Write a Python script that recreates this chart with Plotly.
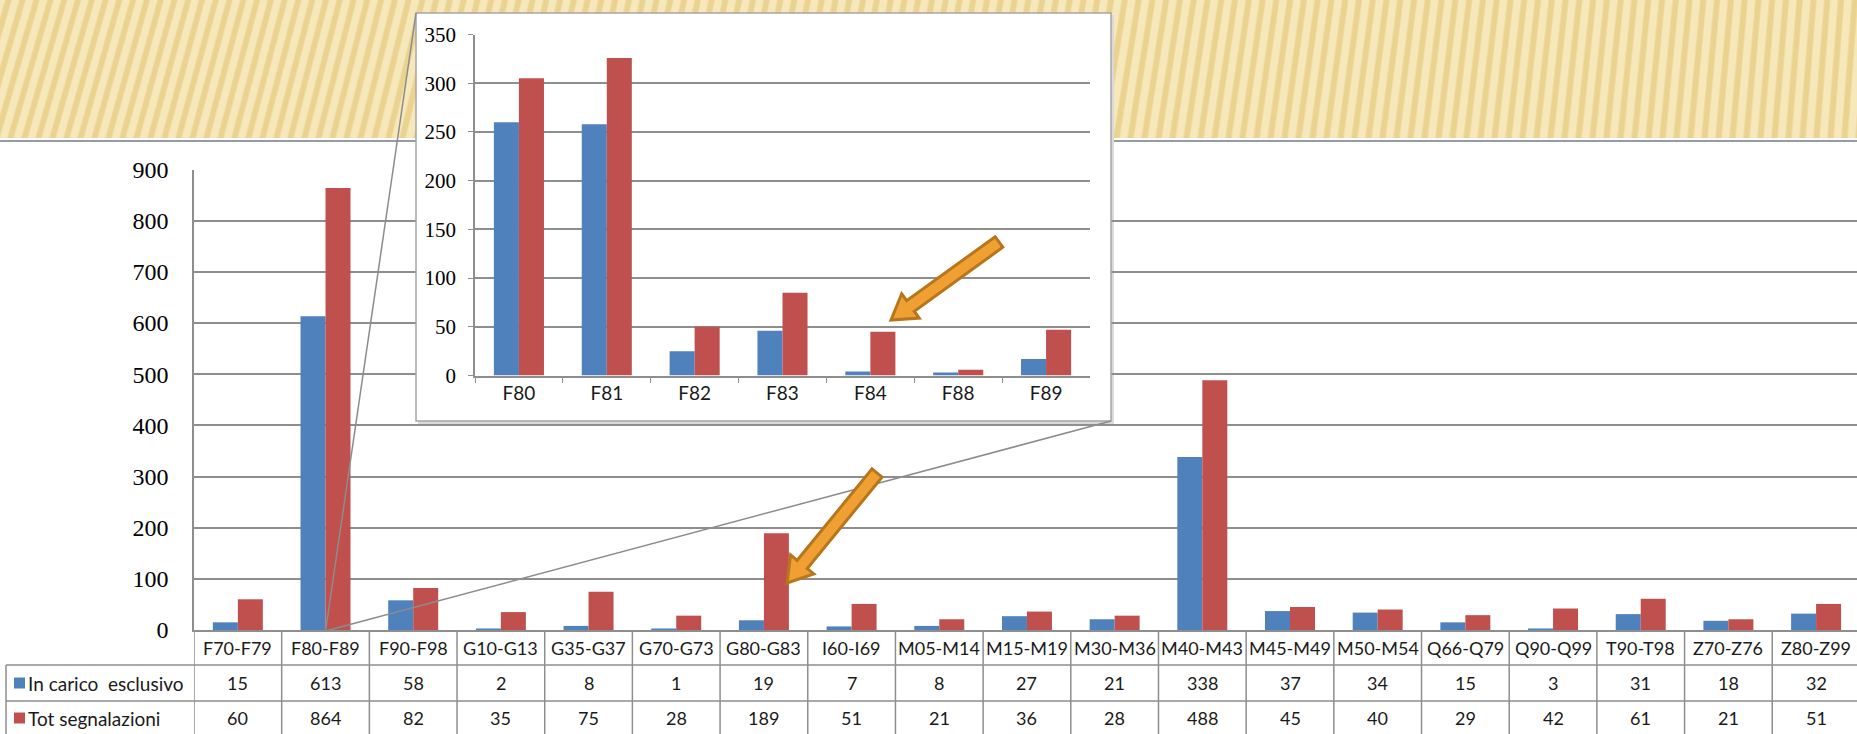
import plotly.graph_objects as go

# page size in pixels, every layout position below is given in pixels and turned into paper units
W, H = 1857, 734

# main chart data
categories = ["F70-F79", "F80-F89", "F90-F98", "G10-G13", "G35-G37", "G70-G73", "G80-G83",
              "I60-I69", "M05-M14", "M15-M19", "M30-M36", "M40-M43", "M45-M49", "M50-M54",
              "Q66-Q79", "Q90-Q99", "T90-T98", "Z70-Z76", "Z80-Z99"]
in_carico = [15, 613, 58, 2, 8, 1, 19, 7, 8, 27, 21, 338, 37, 34, 15, 3, 31, 18, 32]
tot_segnalazioni = [60, 864, 82, 35, 75, 28, 189, 51, 21, 36, 28, 488, 45, 40, 29, 42, 61, 21, 51]
series_names = ["In carico  esclusivo", "Tot segnalazioni"]
main_ticks = [0, 100, 200, 300, 400, 500, 600, 700, 800, 900]

# detail of F80-F89 (inset chart), values estimated from the bars
zoom_categories = ["F80", "F81", "F82", "F83", "F84", "F88", "F89"]
zoom_in_carico = [260, 258, 25, 46, 4, 3, 17]
zoom_tot = [305, 326, 50, 85, 45, 6, 47]
zoom_ticks = [0, 50, 100, 150, 200, 250, 300, 350]

BLUE = "#4F81BD"
RED = "#C0504D"
GRID = "#8E8E8E"
TEXT = "#1A1A1A"
SANS = "Lato"
SERIF = "Liberation Serif"


def px(x):
    return x / W


def py(y):
    return 1 - y / H


def arrow_path(x0, y0, x1, y1, shaft=13, head_w=30, head_l=24):
    # block arrow from tail (x0, y0) to tip (x1, y1), pixel coords -> svg path in paper units
    dx, dy = x1 - x0, y1 - y0
    length = (dx * dx + dy * dy) ** 0.5
    ux, uy = dx / length, dy / length
    nx, ny = -uy, ux
    bx, by = x1 - ux * head_l, y1 - uy * head_l
    pts = [
        (x0 + nx * shaft / 2, y0 + ny * shaft / 2),
        (bx + nx * shaft / 2, by + ny * shaft / 2),
        (bx + nx * head_w / 2, by + ny * head_w / 2),
        (x1, y1),
        (bx - nx * head_w / 2, by - ny * head_w / 2),
        (bx - nx * shaft / 2, by - ny * shaft / 2),
        (x0 - nx * shaft / 2, y0 - ny * shaft / 2),
    ]
    return "M " + " L ".join(f"{px(a):.5f},{py(b):.5f}" for a, b in pts) + " Z"


fig = go.Figure()

# main grouped bars
fig.add_trace(go.Bar(x=categories, y=in_carico, name=series_names[0], marker=dict(color=BLUE, line_width=0)))
fig.add_trace(go.Bar(x=categories, y=tot_segnalazioni, name=series_names[1], marker=dict(color=RED, line_width=0)))

# empty subplot used only as a white card behind the inset (it hides the main gridlines)
fig.add_trace(go.Scatter(x=[], y=[], xaxis="x2", yaxis="y2", showlegend=False, hoverinfo="skip"))

# inset bars
fig.add_trace(go.Bar(x=zoom_categories, y=zoom_in_carico, xaxis="x3", yaxis="y3",
                     marker=dict(color=BLUE, line_width=0), showlegend=False))
fig.add_trace(go.Bar(x=zoom_categories, y=zoom_tot, xaxis="x3", yaxis="y3",
                     marker=dict(color=RED, line_width=0), showlegend=False))

n = len(categories)
col_w = (W - 194) / 87.68  # number of columns visible in the window
fig.update_layout(
    width=W,
    height=H,
    margin=dict(l=0, r=0, t=0, b=0, autoexpand=False),
    paper_bgcolor="white",
    plot_bgcolor="white",
    showlegend=False,
    barmode="group",
    bargap=0.43,
    bargroupgap=0,
    xaxis=dict(domain=[px(194), 1], range=[-0.5, col_w - 0.5], showticklabels=False,
               showgrid=False, zeroline=False, showline=True, linecolor=GRID, linewidth=1.5,
               automargin=False, fixedrange=True),
    yaxis=dict(domain=[py(630), py(169.5)], range=[0, 900], tickvals=main_ticks,
               showgrid=True, gridcolor=GRID, gridwidth=1.5, zeroline=False,
               showline=True, linecolor=GRID, linewidth=1.5, ticks="",
               ticklabelstandoff=19, tickfont=dict(family=SERIF, size=24, color="#000000"),
               automargin=False, fixedrange=True),
    xaxis2=dict(domain=[px(416), px(1111)], anchor="y2", range=[0, 1], visible=False,
                automargin=False, fixedrange=True),
    yaxis2=dict(domain=[py(421), py(13)], anchor="x2", range=[0, 1], visible=False,
                automargin=False, fixedrange=True),
    xaxis3=dict(domain=[px(475), px(1090)], anchor="y3", showgrid=False, zeroline=False,
                showline=True, linecolor=GRID, linewidth=1.5, ticks="outside",
                tickson="boundaries", ticklen=6, tickcolor=GRID,
                tickfont=dict(family=SANS, size=19, color=TEXT), automargin=False, fixedrange=True),
    yaxis3=dict(domain=[py(375.5), py(34.5)], anchor="x3", range=[0, 350], tickvals=zoom_ticks,
                showgrid=True, gridcolor=GRID, gridwidth=1.5, zeroline=False,
                showline=True, linecolor=GRID, linewidth=1.5, ticks="outside", ticklen=5,
                tickcolor=GRID, ticklabelstandoff=8,
                tickfont=dict(family=SERIF, size=21, color="#000000"), automargin=False,
                fixedrange=True),
)

shapes = []

# golden striped header band of the slide
shapes.append(dict(type="rect", xref="paper", yref="paper", x0=0, x1=1, y0=py(138), y1=1,
                   fillcolor="#F1DCA0", line_width=0, layer="below"))
for k in range(-6, 136):
    xb = k * 14
    slant = 40 - 30 * max(xb, 0) / W
    for off, wid, col in [(0, 7, "rgba(252,243,210,0.55)"), (8, 5, "rgba(222,192,118,0.35)")]:
        a = xb + off
        shapes.append(dict(
            type="path", xref="paper", yref="paper", layer="below", line_width=0, fillcolor=col,
            path=f"M {px(a):.5f},{py(138):.5f} L {px(a + wid):.5f},{py(138):.5f} "
                 f"L {px(a + wid + slant):.5f},{py(0):.5f} L {px(a + slant):.5f},{py(0):.5f} Z"))
shapes.append(dict(type="line", xref="paper", yref="paper", x0=0, x1=1, y0=py(141), y1=py(141),
                   line=dict(color="#9A9A9A", width=2), layer="below"))

# inset card: soft shadow below, outline above
shapes.append(dict(type="rect", xref="paper", yref="paper", x0=px(418), x1=px(1114),
                   y0=py(424), y1=py(15), fillcolor="#DADADA", line_width=0, layer="below"))
shapes.append(dict(type="rect", xref="paper", yref="paper", x0=px(416), x1=px(1111),
                   y0=py(421), y1=py(13), line=dict(color="#A6A6A6", width=1.5), layer="above"))

# callout lines from the F80-F89 column to the inset corners
cx = 194 + 1.5 * 87.68
for ex, ey in [(416, 13), (1111, 421)]:
    shapes.append(dict(type="line", xref="paper", yref="paper", x0=px(cx), y0=py(631),
                       x1=px(ex), y1=py(ey), line=dict(color="#8C8C8C", width=1.5), layer="above"))

# data table grid
for i in range(n + 1):
    shapes.append(dict(type="line", xref="x", yref="paper", x0=i - 0.5, x1=i - 0.5,
                       y0=py(630), y1=0, line=dict(color=GRID, width=1.5), layer="above"))
for yy in [665, 701]:
    shapes.append(dict(type="line", xref="paper", yref="paper", x0=px(6), x1=1, y0=py(yy), y1=py(yy),
                       line=dict(color=GRID, width=1.5), layer="above"))
shapes.append(dict(type="line", xref="paper", yref="paper", x0=px(6), x1=px(6), y0=py(665), y1=0,
                   line=dict(color=GRID, width=1.5), layer="above"))

# legend keys in the table
for (yy, col) in [(683, BLUE), (718, RED)]:
    shapes.append(dict(type="rect", xref="paper", yref="paper", x0=px(14), x1=px(25),
                       y0=py(yy + 5.5), y1=py(yy - 5.5), fillcolor=col, line_width=0, layer="above"))

# orange block arrows
for tail, tip in [((999, 242), (891, 320)), ((877, 473), (787, 583))]:
    shapes.append(dict(type="path", xref="paper", yref="paper", layer="above",
                       path=arrow_path(tail[0], tail[1], tip[0], tip[1]),
                       fillcolor="#F0A032", line=dict(color="#B8761C", width=3)))

fig.update_layout(shapes=shapes)

# table text
tfont = dict(family=SANS, size=18, color=TEXT)
for i, cat in enumerate(categories):
    fig.add_annotation(x=cat, xref="x", y=py(647.5), yref="paper", text=cat, showarrow=False,
                       font=tfont, yanchor="middle")
    fig.add_annotation(x=cat, xref="x", y=py(683), yref="paper", text=str(in_carico[i]),
                       showarrow=False, font=tfont, yanchor="middle")
    fig.add_annotation(x=cat, xref="x", y=py(718), yref="paper", text=str(tot_segnalazioni[i]),
                       showarrow=False, font=tfont, yanchor="middle")
for name, yy in zip(series_names, [683, 718]):
    fig.add_annotation(x=px(26), xref="paper", y=py(yy), yref="paper", text=name.replace("  ", "&nbsp; "),
                       xanchor="left", yanchor="middle", showarrow=False,
                       font=dict(family=SANS, size=19, color=TEXT))

fig.write_html("out.html", config={"displayModeBar": False},
               post_script="document.body.style.margin='0';")
